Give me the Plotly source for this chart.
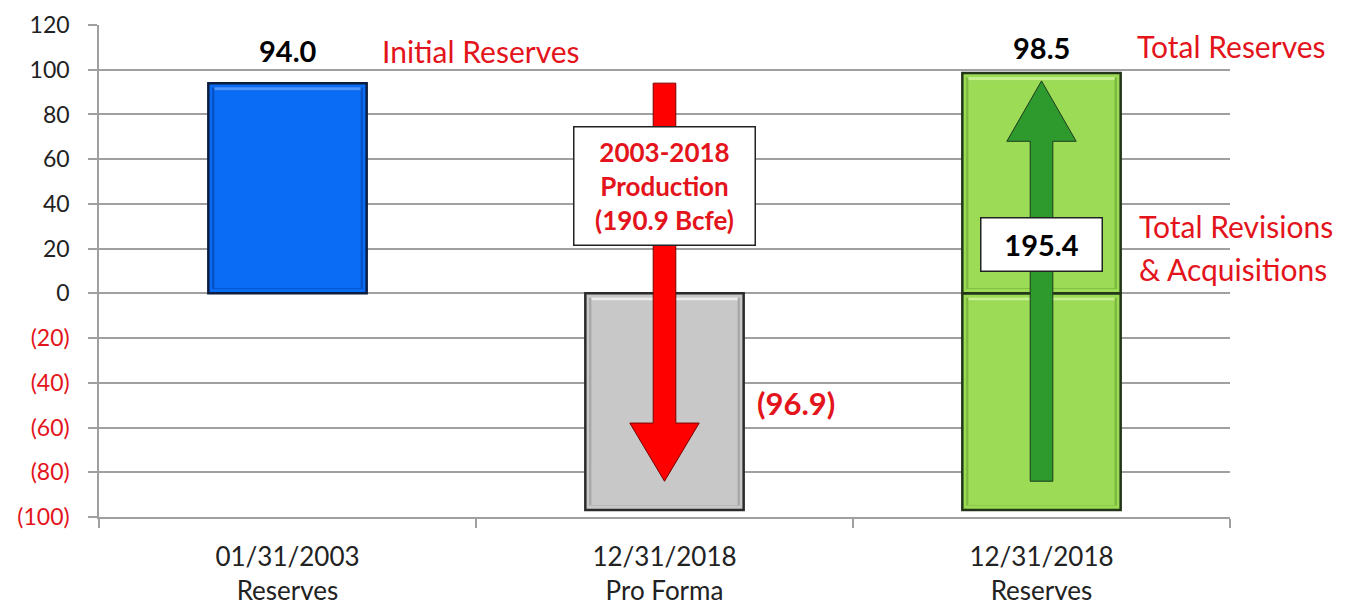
import plotly.graph_objects as go

# categories / values
categories = ["01/31/2003<br>Reserves", "12/31/2018<br>Pro Forma", "12/31/2018<br>Reserves"]
initial_reserves = [94.0]
production = [-96.9]
revisions_neg = [-96.9]
revisions_pos = [98.5]
y_ticks = [-100, -80, -60, -40, -20, 0, 20, 40, 60, 80, 100, 120]

# arrows: category index, start value, head base value, tip value
arrow_cat = [1, 2]
arrow_start = [94.0, -84.0]
arrow_head_base = [-58.0, 68.0]
arrow_tip = [-84.0, 95.0]
arrow_colors = ["#FF0000", "#2E9A2E"]

RED = "#E3141B"
FONT = "Lato, 'Open Sans', sans-serif"
BAR_W = 0.42


def tick_text(v):
    if v < 0:
        return f'<span style="color:{RED}">({abs(v)})</span>'
    return str(v)


def arrow_polygon(cx, start, base, tip, shaft=0.03, head=0.092):
    xs = [cx - shaft, cx + shaft, cx + shaft, cx + head, cx, cx - head, cx - shaft, cx - shaft]
    ys = [start, start, base, base, tip, base, base, start]
    return xs, ys


def add_bar(fig, x, lo, hi, color, edge, light, dark):
    # outer bar
    fig.add_trace(go.Bar(
        x=[x], y=[hi - lo], base=[lo], width=BAR_W,
        marker=dict(color=color, line=dict(color=edge, width=2.5)),
    ))
    # soft bevel: darker band, then lighter inner face
    fig.add_trace(go.Bar(
        x=[x], y=[hi - lo - 4.0], base=[lo + 2.0], width=BAR_W - 0.02,
        marker=dict(color=dark, line=dict(width=0)),
    ))
    fig.add_trace(go.Bar(
        x=[x], y=[hi - lo - 5.5], base=[lo + 2.3], width=BAR_W - 0.032,
        marker=dict(color=color, line=dict(width=0)),
    ))
    fig.add_trace(go.Bar(
        x=[x], y=[1.4], base=[hi - 3.2], width=BAR_W - 0.032,
        marker=dict(color=light, line=dict(width=0)),
    ))


fig = go.Figure()

add_bar(fig, 0, 0, initial_reserves[0], "#0A6CF5", "#0B1E40", "#4D95FF", "#0652C4")
add_bar(fig, 1, production[0], 0, "#C8C8C8", "#2B2B2B", "#EDEDED", "#A6A6A6")
add_bar(fig, 2, revisions_neg[0], 0, "#9BDB55", "#24361A", "#C4F08E", "#7DB83E")
add_bar(fig, 2, 0, revisions_pos[0], "#9BDB55", "#24361A", "#C4F08E", "#7DB83E")

for cx, s, b, t, c in zip(arrow_cat, arrow_start, arrow_head_base, arrow_tip, arrow_colors):
    xs, ys = arrow_polygon(cx, s, b, t)
    fig.add_trace(go.Scatter(
        x=xs, y=ys, mode="lines", fill="toself", fillcolor=c,
        line=dict(color="#1E3A1E" if c != "#FF0000" else "#7A0000", width=1),
    ))

annotations = [
    dict(x=0, y=initial_reserves[0], text="<b>94.0</b>", yanchor="bottom", yshift=13,
         font=dict(size=29, color="black")),
    dict(x=0.245, y=initial_reserves[0], text="Initial Reserves", xanchor="left", yanchor="bottom",
         yshift=12, font=dict(size=30, color=RED)),
    dict(x=2, y=revisions_pos[0], text="<b>98.5</b>", yanchor="bottom", yshift=6,
         font=dict(size=29, color="black")),
    dict(x=2.248, y=revisions_pos[0], text="Total Reserves", xanchor="left", yanchor="bottom",
         yshift=7, font=dict(size=30, color=RED)),
    dict(x=2.253, y=30, text="Total Revisions", xanchor="left", font=dict(size=30, color=RED)),
    dict(x=2.253, y=11, text="&amp; Acquisitions", xanchor="left", font=dict(size=30, color=RED)),
    dict(x=1.24, y=-49, text="<b>(96.9)</b>", xanchor="left", font=dict(size=31, color=RED)),
    dict(x=1, y=48, text="<b>2003-2018<br>Production<br>(190.9 Bcfe)</b>",
         width=178, height=115, bgcolor="white", bordercolor="#222222", borderwidth=1.5,
         font=dict(size=26, color=RED)),
    dict(x=2, y=21.8, text="<b>195.4</b>", width=118, height=50, bgcolor="white",
         bordercolor="#222222", borderwidth=1.5, font=dict(size=29, color="black")),
]
for a in annotations:
    a.update(xref="x", yref="y", showarrow=False)

# page body adds an 8px margin, so the figure is 8px smaller and margins shifted
fig.update_layout(
    width=1345, height=601,
    margin=dict(l=91, r=123, t=17, b=92, autoexpand=False),
    plot_bgcolor="white", paper_bgcolor="white",
    barmode="overlay", showlegend=False,
    font=dict(family=FONT, size=22, color="#222222"),
    annotations=annotations,
    xaxis=dict(
        range=[-0.5, 2.5], tickmode="array", tickvals=[0, 1, 2], ticktext=categories,
        ticks="", showgrid=False, zeroline=False, showline=True, linecolor="#A0A0A0",
        linewidth=1.5, ticklabelstandoff=16, tickfont=dict(size=26, color="#222222"),
        minor=dict(tickmode="array", tickvals=[-0.5, 0.5, 1.5, 2.5], ticks="outside",
                   ticklen=9, tickcolor="#A0A0A0", tickwidth=1.5, showgrid=False),
        automargin=False, fixedrange=True,
    ),
    yaxis=dict(
        range=[-100, 120], tickmode="array", tickvals=y_ticks,
        ticktext=[tick_text(v) for v in y_ticks],
        showgrid=True, gridcolor="#A0A0A0", gridwidth=1.5,
        zeroline=True, zerolinecolor="#A0A0A0", zerolinewidth=1.5,
        showline=True, linecolor="#A0A0A0", linewidth=1.5,
        ticks="outside", ticklen=9, tickcolor="#A0A0A0", tickwidth=1.5,
        ticklabelstandoff=14, ticklabeloverflow="allow", tickfont=dict(size=23, color="#222222"),
        automargin=False, fixedrange=True,
    ),
)

fig.write_html("out.html")
